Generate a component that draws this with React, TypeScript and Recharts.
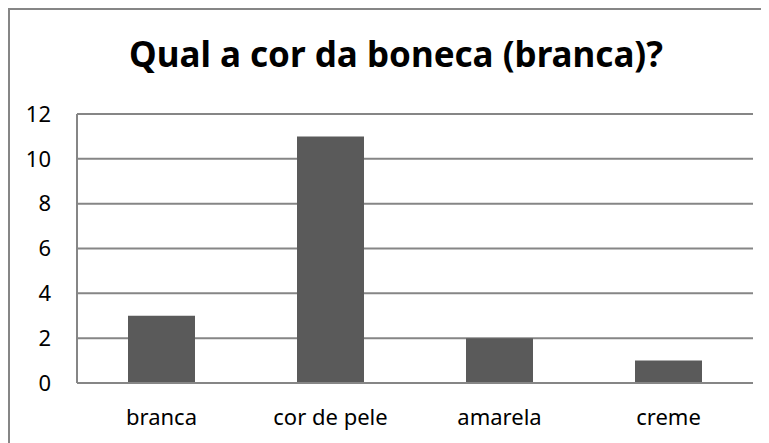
import { BarChart, Bar, XAxis, YAxis, CartesianGrid } from "recharts";

const categories = ["branca", "cor de pele", "amarela", "creme"];
const counts = [3, 11, 2, 1];
const yTicks = [0, 2, 4, 6, 8, 10, 12];

const data = categories.map((name, i) => ({ name, count: counts[i] }));

const GRAY = "#868686";
const FONT = "'Noto Sans', sans-serif";

export default function App() {
    return (
        <div
            style={{
                position: "relative",
                width: 759,
                height: 433,
                overflow: "hidden",
                borderTop: `2px solid ${GRAY}`,
                borderLeft: `2px solid ${GRAY}`,
                fontFamily: FONT,
            }}
        >
            <style>{"html, body { overflow: hidden; }"}</style>

            <div
                style={{
                    position: "absolute",
                    left: 0,
                    width: 772,
                    top: 20,
                    textAlign: "center",
                    fontSize: 35,
                    fontWeight: 700,
                    color: "#000",
                }}
            >
                Qual a cor da boneca (branca)?
            </div>

            <BarChart
                width={762}
                height={425}
                data={data}
                margin={{ top: 104, right: 19, bottom: 12, left: 7 }}
            >
                <CartesianGrid vertical={false} stroke={GRAY} strokeWidth={2}/>

                <XAxis
                    dataKey="name"
                    height={40}
                    stroke={GRAY}
                    strokeWidth={2}
                    tickLine={false}
                    tickMargin={20}
                    tick={{ fill: "#000", fontSize: 22, fontFamily: FONT }}
                />

                <YAxis
                    width={60}
                    domain={[0, 12]}
                    ticks={yTicks}
                    interval={0}
                    stroke={GRAY}
                    strokeWidth={2}
                    tickLine={false}
                    tickMargin={20}
                    tick={{ fill: "#000", fontSize: 22, fontFamily: FONT }}
                />

                <Bar
                    dataKey="count"
                    fill="#5a5a5a"
                    barSize={67}
                    isAnimationActive={false}
                />
            </BarChart>
        </div>
    );
}
